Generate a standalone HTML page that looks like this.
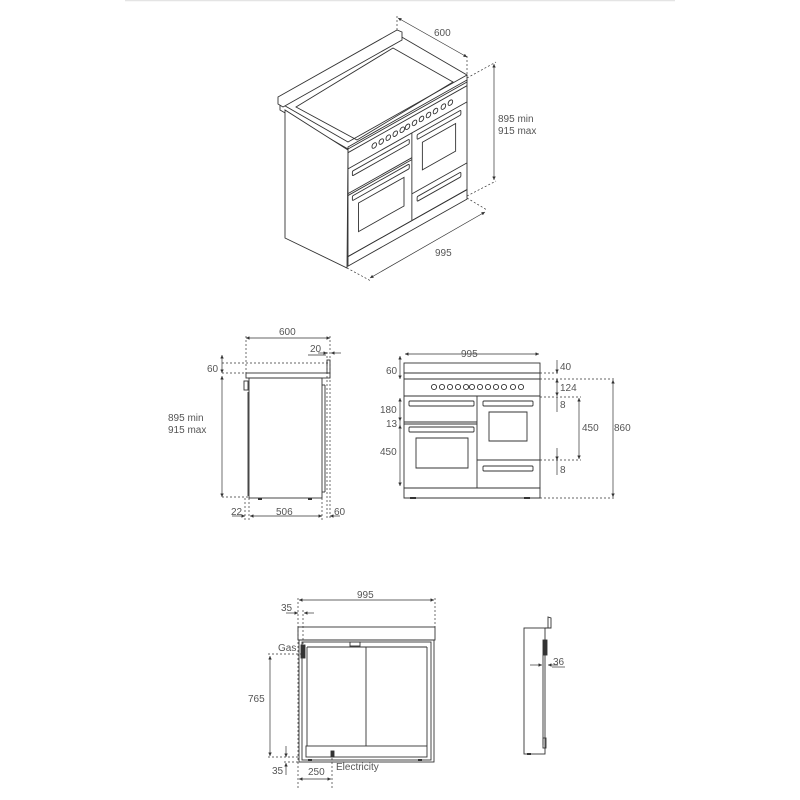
<!DOCTYPE html>
<html><head><meta charset="utf-8"><style>
html,body{margin:0;padding:0;background:#fff;width:800px;height:800px;overflow:hidden}
svg text{font-family:"Liberation Sans",sans-serif;fill:#555;font-size:10px}
</style></head><body>
<svg width="800" height="800" viewBox="0 0 800 800" xmlns="http://www.w3.org/2000/svg">
<defs>
<marker id="a" viewBox="0 0 6 6" refX="6" refY="3" markerWidth="5" markerHeight="5" orient="auto-start-reverse"><path d="M0,0L6,3L0,6z" fill="#333"/></marker>
<g id="front" fill="none" stroke="#333" stroke-width="0.9" vector-effect="non-scaling-stroke">
 <rect x="404" y="373" width="136" height="115" vector-effect="non-scaling-stroke"/>
 <line x1="404" y1="379" x2="540" y2="379" vector-effect="non-scaling-stroke"/>
 <line x1="404" y1="396" x2="540" y2="396" vector-effect="non-scaling-stroke"/>
 <g vector-effect="non-scaling-stroke">
  <circle cx="434" cy="387" r="2.6" vector-effect="non-scaling-stroke"/><circle cx="442" cy="387" r="2.6" vector-effect="non-scaling-stroke"/><circle cx="450" cy="387" r="2.6" vector-effect="non-scaling-stroke"/><circle cx="458" cy="387" r="2.6" vector-effect="non-scaling-stroke"/><circle cx="466" cy="387" r="2.6" vector-effect="non-scaling-stroke"/><circle cx="472" cy="387" r="2.6" vector-effect="non-scaling-stroke"/><circle cx="480" cy="387" r="2.6" vector-effect="non-scaling-stroke"/><circle cx="488" cy="387" r="2.6" vector-effect="non-scaling-stroke"/><circle cx="496" cy="387" r="2.6" vector-effect="non-scaling-stroke"/><circle cx="504" cy="387" r="2.6" vector-effect="non-scaling-stroke"/><circle cx="513" cy="387" r="2.6" vector-effect="non-scaling-stroke"/><circle cx="521" cy="387" r="2.6" vector-effect="non-scaling-stroke"/>
 </g>
 <line x1="477" y1="396" x2="477" y2="488" vector-effect="non-scaling-stroke"/>
 <line x1="404" y1="422" x2="477" y2="422" vector-effect="non-scaling-stroke"/>
 <line x1="404" y1="424" x2="477" y2="424" vector-effect="non-scaling-stroke"/>
 <line x1="477" y1="460" x2="540" y2="460" vector-effect="non-scaling-stroke"/>
 <rect x="409" y="401" width="65" height="5" rx="1" vector-effect="non-scaling-stroke"/>
 <rect x="483" y="401" width="50" height="5" rx="1" vector-effect="non-scaling-stroke"/>
 <rect x="409" y="427" width="65" height="5" rx="1" vector-effect="non-scaling-stroke"/>
 <rect x="483" y="466" width="50" height="5" rx="1" vector-effect="non-scaling-stroke"/>
 <rect x="416" y="438" width="52" height="30" vector-effect="non-scaling-stroke"/>
 <rect x="489" y="412" width="38" height="29" vector-effect="non-scaling-stroke"/>
 <rect x="404" y="488" width="136" height="10" vector-effect="non-scaling-stroke"/>
</g>
</defs>
<line x1="125" y1="0.5" x2="675" y2="0.5" stroke="#e4e4e4" stroke-width="1.5"/>

<!-- ISO VIEW -->
<g fill="none" stroke="#333" stroke-width="0.9">
 <polygon points="280,103 400,36 467,75 348,142" fill="#fff"/>
 <polyline points="280,103 280,110 348,149 467,82 467,75"/>
 <polygon points="278,97 397,30 402,32 402,40 283,107 278,104" fill="#fff"/>
 <polygon points="296,107 393,48 453,82 357,140" />
 <polygon points="285,110 285,238 347,268 348,150" fill="#fff"/>
 <use href="#front" transform="matrix(0.875,-0.4926,0,0.953,-5.5,-9.5)"/>
</g>
<g stroke="#333" stroke-width="0.7" fill="none">
 <line x1="398" y1="18" x2="467" y2="57" marker-start="url(#a)" marker-end="url(#a)"/>
 <line x1="397" y1="16" x2="397" y2="30" stroke-dasharray="2,2"/>
 <line x1="467" y1="56" x2="467" y2="75" stroke-dasharray="2,2"/>
 <line x1="494" y1="64" x2="494" y2="180" marker-start="url(#a)" marker-end="url(#a)"/>
 <line x1="467" y1="78" x2="496" y2="62" stroke-dasharray="2,2"/>
 <line x1="467" y1="196" x2="496" y2="181" stroke-dasharray="2,2"/>
 <line x1="370" y1="278" x2="485" y2="212" marker-start="url(#a)" marker-end="url(#a)"/>
 <line x1="347" y1="268" x2="371" y2="281" stroke-dasharray="2,2"/>
 <line x1="467" y1="198" x2="487" y2="210" stroke-dasharray="2,2"/>
</g>
<text x="434" y="36">600</text>
<text x="498" y="122">895 min</text>
<text x="498" y="134">915 max</text>
<text x="435" y="256">995</text>

<!-- SIDE VIEW -->
<g fill="none" stroke="#333" stroke-width="0.9">
 <rect x="246" y="373" width="84" height="5"/>
 <rect x="249" y="378" width="73" height="120"/>
 <line x1="322" y1="385" x2="325" y2="385"/><line x1="325" y1="385" x2="325" y2="492"/><line x1="322" y1="492" x2="325" y2="492"/>
 <rect x="244" y="381" width="4" height="9"/>
 <line x1="248" y1="392" x2="248" y2="496"/>
 <line x1="258" y1="499" x2="262" y2="499" stroke-width="2"/><line x1="308" y1="499" x2="312" y2="499" stroke-width="2"/>
 <rect x="327" y="360" width="3" height="13"/>
</g>
<g stroke="#333" stroke-width="0.7" fill="none">
 <line x1="246" y1="338" x2="330" y2="338" marker-start="url(#a)" marker-end="url(#a)"/>
 <line x1="246" y1="336" x2="246" y2="373" stroke-dasharray="2,2"/>
 <line x1="330" y1="336" x2="330" y2="520" stroke-dasharray="2,2"/>
 <line x1="327" y1="352" x2="327" y2="520" stroke-dasharray="2,2"/>
 <line x1="318" y1="353" x2="327" y2="353" marker-end="url(#a)"/>
 <line x1="341" y1="353" x2="331" y2="353" marker-end="url(#a)"/>
 <line x1="308" y1="355" x2="326" y2="355"/>
 <line x1="222" y1="363" x2="330" y2="363" stroke-dasharray="2,2"/>
 <line x1="222" y1="373" x2="246" y2="373" stroke-dasharray="2,2"/>
 <line x1="222" y1="355" x2="222" y2="373" marker-start="url(#a)" marker-end="url(#a)"/>
 <line x1="222" y1="376" x2="222" y2="497" marker-start="url(#a)" marker-end="url(#a)"/>
 <line x1="222" y1="497" x2="249" y2="497" stroke-dasharray="2,2"/>
 <line x1="245" y1="498" x2="245" y2="520" stroke-dasharray="2,2"/>
 <line x1="249" y1="498" x2="249" y2="520" stroke-dasharray="2,2"/>
 <line x1="322" y1="498" x2="322" y2="520" stroke-dasharray="2,2"/>
 <line x1="232" y1="516" x2="245" y2="516" marker-end="url(#a)"/>
 <line x1="250" y1="516" x2="322" y2="516" marker-start="url(#a)" marker-end="url(#a)"/>
 <line x1="340" y1="516" x2="330" y2="516" marker-end="url(#a)"/>
</g>
<text x="279" y="335">600</text>
<text x="310" y="352">20</text>
<text x="207" y="372">60</text>
<text x="168" y="421">895 min</text>
<text x="168" y="433">915 max</text>
<text x="231" y="515">22</text>
<text x="276" y="515">506</text>
<text x="334" y="515">60</text>

<!-- FRONT VIEW -->
<use href="#front"/>
<g fill="none" stroke="#333" stroke-width="0.9">
 <rect x="404" y="363" width="136" height="10"/>
 <line x1="410" y1="498" x2="416" y2="498" stroke-width="2"/>
 <line x1="524" y1="498" x2="530" y2="498" stroke-width="2"/>
</g>
<g stroke="#333" stroke-width="0.7" fill="none">
 <line x1="405" y1="354" x2="539" y2="354" marker-start="url(#a)" marker-end="url(#a)"/>
 <line x1="400" y1="356" x2="400" y2="379" marker-start="url(#a)" marker-end="url(#a)"/>
 <line x1="400" y1="398" x2="400" y2="421" marker-start="url(#a)" marker-end="url(#a)"/>
 <line x1="400" y1="419" x2="400" y2="427"/>
 <line x1="400" y1="425" x2="400" y2="486" marker-start="url(#a)" marker-end="url(#a)"/>
 <line x1="540" y1="373" x2="560" y2="373" stroke-dasharray="2,2"/>
 <line x1="540" y1="379" x2="614" y2="379" stroke-dasharray="2,2"/>
 <line x1="540" y1="397" x2="581" y2="397" stroke-dasharray="2,2"/>
 <line x1="540" y1="460" x2="581" y2="460" stroke-dasharray="2,2"/>
 <line x1="540" y1="498" x2="614" y2="498" stroke-dasharray="2,2"/>
 <line x1="557" y1="360" x2="557" y2="373" marker-end="url(#a)"/>
 <line x1="557" y1="379" x2="557" y2="396" marker-start="url(#a)" marker-end="url(#a)"/>
 <line x1="557" y1="397" x2="557" y2="412"/>
 <line x1="557" y1="448" x2="557" y2="460" marker-end="url(#a)"/>
 <line x1="557" y1="460" x2="557" y2="475"/>
 <line x1="579" y1="398" x2="579" y2="459" marker-start="url(#a)" marker-end="url(#a)"/>
 <line x1="613" y1="380" x2="613" y2="497" marker-start="url(#a)" marker-end="url(#a)"/>
</g>
<text x="461" y="357">995</text>
<text x="386" y="374">60</text>
<text x="380" y="413">180</text>
<text x="386" y="427">13</text>
<text x="380" y="455">450</text>
<text x="560" y="370">40</text>
<text x="560" y="391">124</text>
<text x="560" y="408">8</text>
<text x="582" y="431">450</text>
<text x="560" y="473">8</text>
<text x="614" y="431">860</text>

<!-- REAR VIEW -->
<g fill="none" stroke="#333" stroke-width="0.9">
 <rect x="298" y="627" width="137" height="13"/>
 <rect x="299" y="640" width="135" height="122"/>
 <rect x="302" y="642" width="129" height="118"/>
 <line x1="307" y1="647" x2="307" y2="746"/><line x1="427" y1="647" x2="427" y2="746"/>
 <line x1="307" y1="647" x2="427" y2="647"/>
 <line x1="366" y1="647" x2="366" y2="746"/>
 <rect x="306" y="746" width="121" height="11"/>
 <rect x="350" y="642" width="10" height="4"/>
 <rect x="301" y="645" width="4" height="13" fill="#333"/>
 <rect x="331" y="751" width="3" height="6" fill="#333"/>
 <line x1="308" y1="760" x2="312" y2="760" stroke-width="2"/><line x1="418" y1="760" x2="422" y2="760" stroke-width="2"/>
</g>
<g stroke="#333" stroke-width="0.7" fill="none">
 <line x1="299" y1="600" x2="434" y2="600" marker-start="url(#a)" marker-end="url(#a)"/>
 <line x1="298" y1="598" x2="298" y2="790" stroke-dasharray="2,2"/>
 <line x1="435" y1="598" x2="435" y2="627" stroke-dasharray="2,2"/>
 <line x1="303" y1="610" x2="303" y2="645" stroke-dasharray="2,2"/>
 <line x1="286" y1="613" x2="298" y2="613" marker-end="url(#a)"/>
 <line x1="314" y1="613" x2="304" y2="613" marker-end="url(#a)"/>
 <line x1="268" y1="654" x2="302" y2="654" stroke-dasharray="2,2"/>
 <line x1="270" y1="656" x2="270" y2="756" marker-start="url(#a)" marker-end="url(#a)"/>
 <line x1="268" y1="757" x2="300" y2="757" stroke-dasharray="2,2"/>
 <line x1="284" y1="762" x2="300" y2="762" stroke-dasharray="2,2"/>
 <line x1="286" y1="746" x2="286" y2="757" marker-end="url(#a)"/>
 <line x1="286" y1="775" x2="286" y2="763" marker-end="url(#a)"/>
 <line x1="332" y1="758" x2="332" y2="790" stroke-dasharray="2,2"/>
 <line x1="299" y1="779" x2="331" y2="779" marker-start="url(#a)" marker-end="url(#a)"/>
</g>
<text x="281" y="611">35</text>
<text x="357" y="598">995</text>
<text x="278" y="651">Gas</text>
<text x="248" y="702">765</text>
<text x="272" y="774">35</text>
<text x="308" y="775">250</text>
<text x="336" y="770">Electricity</text>

<!-- SMALL SIDE VIEW -->
<g fill="none" stroke="#333" stroke-width="0.9">
 <rect x="524" y="628" width="21" height="126"/>
 <polyline points="545,628 551,628 551,618 548,617 548,628"/>
 <rect x="543" y="640" width="4" height="15" fill="#333"/>
 <line x1="543" y1="655" x2="543" y2="745"/>
 <rect x="543" y="738" width="3" height="10"/>
 <line x1="527" y1="754" x2="531" y2="754" stroke-width="2"/>
</g>
<g stroke="#333" stroke-width="0.7" fill="none">
 <line x1="530" y1="665" x2="542" y2="665" marker-end="url(#a)"/>
 <line x1="558" y1="665" x2="548" y2="665" marker-end="url(#a)"/>
 <line x1="552" y1="667" x2="565" y2="667"/>
</g>
<text x="553" y="665">36</text>
</svg>
</body></html>
